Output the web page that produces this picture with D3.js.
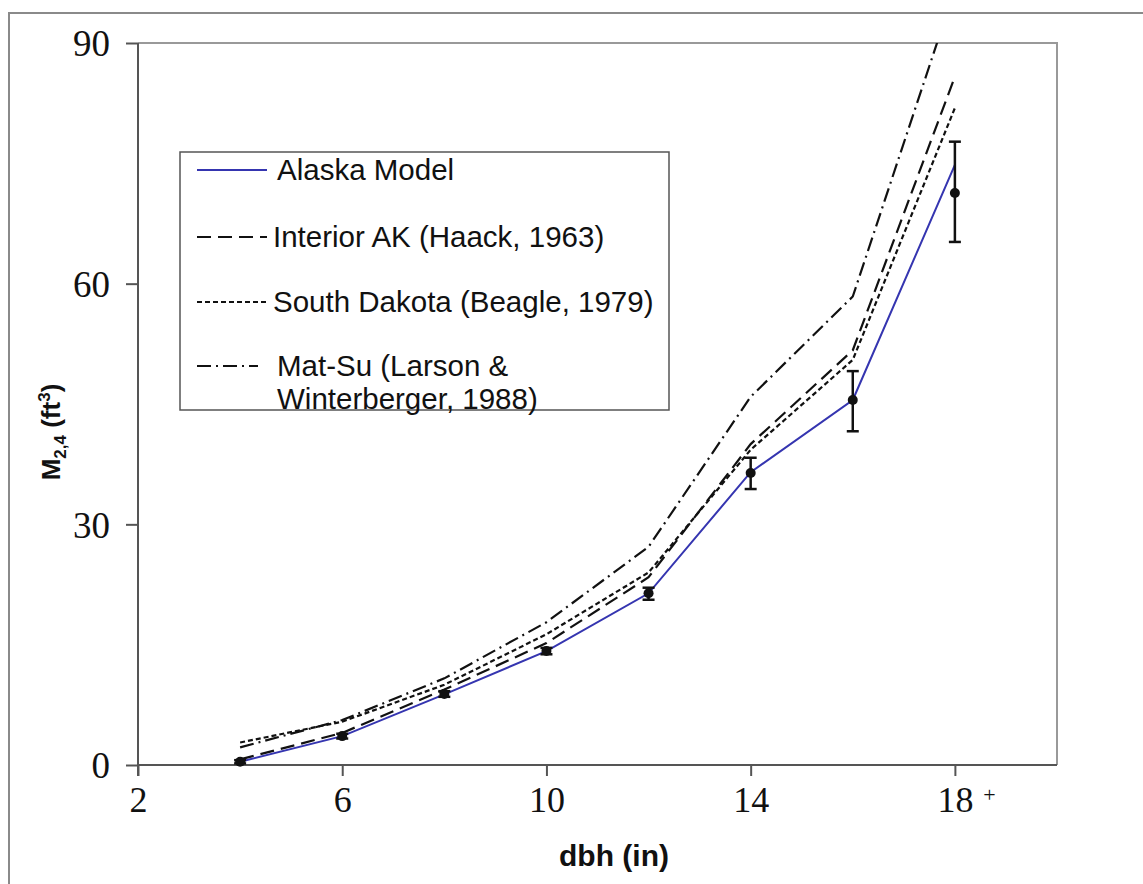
<!DOCTYPE html>
<html><head><meta charset="utf-8">
<script src="https://cdn.jsdelivr.net/npm/d3@7"></script>
<style>body{margin:0;background:#fff}</style>
</head><body>
<svg id="c" width="1143" height="884"></svg>
<script>
const dbh = [4, 6, 8, 10, 12, 14, 16, 18];
const alaskaModel = [0.4, 3.6, 8.8, 14.2, 21.4, 36.5, 45.5, 74.8];
const interiorAK = [0.7, 4.0, 9.4, 15.2, 23.4, 40.0, 51.7, 85.8];
const southDakota = [2.8, 5.4, 10.0, 16.3, 24.0, 39.3, 50.5, 81.9];
const matSu = [2.2, 5.6, 10.8, 17.8, 27.2, 45.9, 58.4, 96.7];
const observedMean = [0.4, 3.6, 8.85, 14.2, 21.4, 36.4, 45.5, 71.3];
const observedLow = [0.2, 3.3, 8.5, 13.8, 20.6, 34.4, 41.6, 65.2];
const observedHigh = [0.6, 3.9, 9.2, 14.6, 22.1, 38.3, 49.1, 77.7];
const xTicks = [2, 6, 10, 14, 18];
const yTicks = [0, 30, 60, 90];
const legendLabels = [["Alaska Model"], ["Interior AK (Haack, 1963)"], ["South Dakota (Beagle, 1979)"], ["Mat-Su (Larson &", "Winterberger, 1988)"]];

const svg = d3.select("#c");
const L = 138, R = 1057, T = 43, B = 765;
const x = d3.scaleLinear().domain([2, 20]).range([L, R]);
const y = d3.scaleLinear().domain([0, 90]).range([B, T]);

// outer frame
svg.append("rect").attr("x", 9).attr("y", 13).attr("width", 1200).attr("height", 1000)
  .attr("fill", "none").attr("stroke", "#8a8a8a").attr("stroke-width", 2);

// plot frame (top/right)
svg.append("path").attr("d", `M${L},${T}H${R}V${B}`).attr("fill", "none")
  .attr("stroke", "#999").attr("stroke-width", 2);

// axes
const xAxis = d3.axisBottom(x).tickValues(xTicks).tickSize(11).tickFormat(d => d === 18 ? "18" : d);
const gx = svg.append("g").attr("transform", `translate(0,${B})`).call(xAxis);
gx.select(".domain").attr("stroke", "#555").attr("stroke-width", 2).attr("d", `M${L},0H${R}`);
gx.selectAll(".tick line").attr("stroke", "#555").attr("stroke-width", 2);
gx.selectAll(".tick text").attr("font-family", "Liberation Serif, serif").attr("font-size", 36)
  .attr("fill", "#111").attr("dy", 0).attr("y", 47);
gx.selectAll(".tick").filter(d => d === 18).append("text").text("+")
  .attr("x", 34).attr("y", 37).attr("font-family", "Liberation Serif, serif").attr("font-size", 22)
  .attr("fill", "#111");

const yAxis = d3.axisLeft(y).tickValues(yTicks).tickSize(12);
const gy = svg.append("g").attr("transform", `translate(${L},0)`).call(yAxis);
gy.select(".domain").attr("stroke", "#555").attr("stroke-width", 2).attr("d", `M0,${B + 11}V${T}`);
gy.selectAll(".tick line").attr("stroke", "#555").attr("stroke-width", 2);
gy.selectAll(".tick text").attr("font-family", "Liberation Serif, serif").attr("font-size", 37)
  .attr("fill", "#111").attr("x", -28).attr("dy", "0.35em");

// axis titles
svg.append("text").attr("x", 614).attr("y", 866).attr("text-anchor", "middle")
  .attr("font-family", "Liberation Sans, Arial, sans-serif").attr("font-weight", "bold")
  .attr("font-size", 30).attr("fill", "#111").text("dbh (in)");

const yl = svg.append("text").attr("transform", "translate(60,432) rotate(-90)")
  .attr("text-anchor", "middle").attr("font-family", "Liberation Sans, Arial, sans-serif")
  .attr("font-weight", "bold").attr("font-size", 26).attr("fill", "#111");
yl.append("tspan").text("M");
yl.append("tspan").attr("font-size", 17).attr("dy", 6).text("2,4");
yl.append("tspan").attr("dy", -6).text(" (ft");
yl.append("tspan").attr("font-size", 17).attr("dy", -10).text("3");
yl.append("tspan").attr("dy", 10).text(")");

// clip
svg.append("clipPath").attr("id", "clip").append("rect")
  .attr("x", L).attr("y", T).attr("width", R - L).attr("height", B - T);

const line = d3.line().x(d => x(d[0])).y(d => y(d[1]));
const series = [
  {vals: alaskaModel, color: "#3535b0", w: 2, dash: null},
  {vals: interiorAK, color: "#111", w: 2.2, dash: "14,7"},
  {vals: southDakota, color: "#111", w: 2.2, dash: "5,3"},
  {vals: matSu, color: "#111", w: 2.2, dash: "14,5,2,5"}
];
const pg = svg.append("g").attr("clip-path", "url(#clip)");
series.slice(1).concat(series.slice(0, 1)).forEach(s => {
  pg.append("path").datum(dbh.map((d, i) => [d, s.vals[i]])).attr("d", line)
    .attr("fill", "none").attr("stroke", s.color).attr("stroke-width", s.w)
    .attr("stroke-dasharray", s.dash);
});

// error bars
const eg = svg.append("g");
dbh.forEach((d, i) => {
  eg.append("line").attr("x1", x(d)).attr("x2", x(d)).attr("y1", y(observedLow[i])).attr("y2", y(observedHigh[i]))
    .attr("stroke", "#111").attr("stroke-width", 2.5);
  [observedLow[i], observedHigh[i]].forEach(v => eg.append("line").attr("x1", x(d) - 6).attr("x2", x(d) + 6)
    .attr("y1", y(v)).attr("y2", y(v)).attr("stroke", "#111").attr("stroke-width", 2.5));
  eg.append("circle").attr("cx", x(d)).attr("cy", y(observedMean[i])).attr("r", 5).attr("fill", "#111");
});

// legend
svg.append("rect").attr("x", 180).attr("y", 152).attr("width", 489).attr("height", 258)
  .attr("fill", "#fff").attr("stroke", "#555").attr("stroke-width", 1.5);
const rowY = [170, 237, 302, 366];
const textX = [277, 273, 273, 277];
const sampleEnd = [267, 267, 267, 258];
const lg = svg.append("g");
series.forEach((s, i) => {
  lg.append("line").attr("x1", 197).attr("x2", sampleEnd[i]).attr("y1", rowY[i]).attr("y2", rowY[i])
    .attr("stroke", s.color).attr("stroke-width", s.w).attr("stroke-dasharray", s.dash);
  legendLabels[i].forEach((t, j) => {
    lg.append("text").attr("x", textX[i]).attr("y", rowY[i] + 10 + j * 33)
      .attr("font-family", "Liberation Sans, Arial, sans-serif").attr("font-size", 29.5)
      .attr("fill", "#111").text(t);
  });
});
</script>
</body></html>
